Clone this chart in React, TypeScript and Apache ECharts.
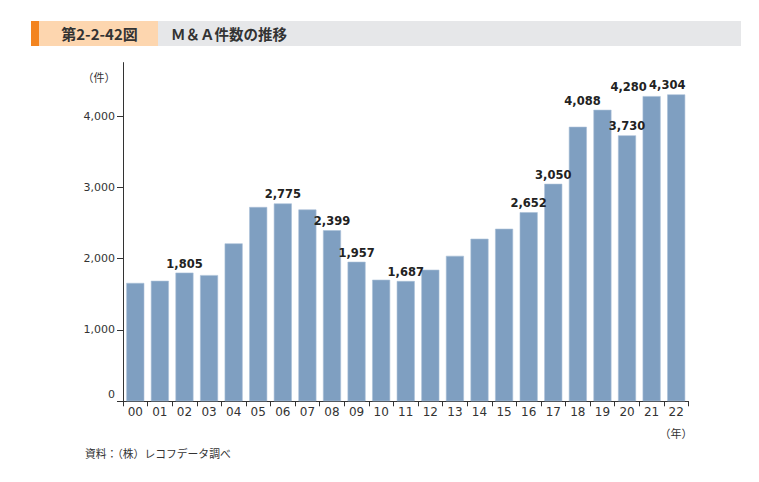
import React, { useEffect, useRef } from "react";
import * as echarts from "echarts";

const years = ["00","01","02","03","04","05","06","07","08","09","10","11","12","13","14","15","16","17","18","19","20","21","22"];
const counts = [1660,1690,1805,1770,2215,2725,2775,2690,2399,1957,1705,1687,1845,2040,2280,2420,2652,3050,3850,4088,3730,4280,4304];
const labeledYears = ["02","06","08","09","11","16","17","19","20","21","22"];
const yTicks = [0, 1000, 2000, 3000, 4000];
const titleNo = "第2-2-42図";
const titleText = "Ｍ＆Ａ件数の推移";
const yUnit = "（件）";
const xUnit = "（年）";
const source = "資料：（株）レコフデータ調べ";

// label nudges (px) to avoid overlaps, as in the reference
const labelShift: Record<string, number> = { "19": -20, "21": -23, "22": -9 };

export default function App() {
  const ref = useRef<HTMLDivElement>(null);
  useEffect(() => {
    if (!ref.current) return;
    const chart = echarts.init(ref.current, null, { renderer: "svg" });
    const fmt = (v: number) => v.toLocaleString("en-US");
    const data = counts.map((v, i) => {
      const y = years[i];
      const shown = labeledYears.includes(y);
      return {
        value: v,
        label: {
          show: shown,
          offset: [labelShift[y] || 0, 0],
        },
      };
    });
    chart.setOption({
      animation: false,
      backgroundColor: "#ffffff",
      grid: { left: 123, right: 70.5, top: 62.6, bottom: 80.7, containLabel: false },
      xAxis: {
        type: "category",
        data: years,
        boundaryGap: true,
        axisLine: { lineStyle: { color: "#333", width: 1 } },
        axisTick: { show: true, length: 5, lineStyle: { color: "#333" } },
        axisLabel: { color: "#333", fontSize: 12, fontFamily: "DejaVu Sans", margin: 5, interval: 0 },
      },
      yAxis: {
        type: "value",
        min: 0,
        max: 4750,
        interval: 1000,
        splitLine: { show: false },
        axisLine: { show: true, lineStyle: { color: "#333", width: 1 } },
        axisTick: { show: true, length: 6, customValues: yTicks, lineStyle: { color: "#333" } },
        axisLabel: {
          color: "#333",
          fontSize: 11,
          fontFamily: "DejaVu Sans",
          margin: 8,
          customValues: yTicks,
          formatter: (v: number) => (v === 0 ? "{z|0}" : fmt(v)),
          rich: {
            z: { color: "#333", fontSize: 11, fontFamily: "DejaVu Sans", padding: [0, 0, 14, 0] },
          },
        },
      },
      series: [
        {
          type: "bar",
          data,
          barWidth: 18,
          itemStyle: { color: "#7F9FC1", borderColor: "#A9BFD6", borderWidth: 0.6 },
          label: {
            position: "top",
            distance: 3,
            color: "#222",
            fontSize: 11.5,
            fontWeight: "bold",
            fontFamily: "DejaVu Sans",
            formatter: (p: any) => fmt(p.value),
          },
        },
      ],
      graphic: [
        { type: "rect", shape: { x: 31, y: 21, width: 8, height: 25 }, style: { fill: "#F3841F" } },
        { type: "rect", shape: { x: 39, y: 21, width: 119, height: 25 }, style: { fill: "#FDD6AF" } },
        { type: "rect", shape: { x: 158, y: 21, width: 583, height: 25 }, style: { fill: "#E6E7E9" } },
        {
          type: "text", x: 99.5, y: 33.5,
          style: { text: titleNo, fill: "#333", font: "bold 15px 'Noto Sans CJK JP'", align: "center", verticalAlign: "middle" },
        },
        {
          type: "text", x: 171, y: 33.5,
          style: { text: titleText, fill: "#333", font: "bold 14.5px 'Noto Sans CJK JP'", align: "left", verticalAlign: "middle" },
        },
        {
          type: "text", x: 99, y: 76.5,
          style: { text: yUnit, fill: "#333", font: "11px 'Noto Sans CJK JP'", align: "center", verticalAlign: "middle" },
        },
        {
          type: "text", x: 676, y: 432.5,
          style: { text: xUnit, fill: "#333", font: "11px 'Noto Sans CJK JP'", align: "center", verticalAlign: "middle" },
        },
        {
          type: "text", x: 85, y: 452.5,
          style: { text: source, fill: "#333", font: "10.8px 'Noto Sans CJK JP'", align: "left", verticalAlign: "middle" },
        },
      ],
    });
    return () => chart.dispose();
  }, []);
  return (
    <div
      ref={ref}
      style={{ position: "fixed", left: 0, top: 0, width: 759, height: 482, background: "#fff" }}
    />
  );
}
